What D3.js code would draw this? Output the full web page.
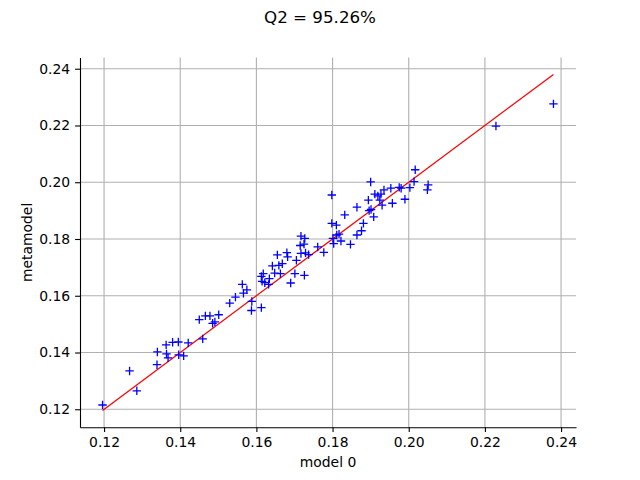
<!DOCTYPE html>
<html>
<head>
<meta charset="utf-8">
<script src="https://cdn.jsdelivr.net/npm/d3@7.9.0/dist/d3.min.js"></script>
<style>
  body { margin: 0; background: #fff; }
  svg { font-family: 'DejaVu Sans', sans-serif; }
</style>
</head>
<body>
<svg id="chart" width="640" height="480"></svg>
<script>
// model output (x) vs metamodel prediction (y)
const modelValues = [
  0.1196, 0.1267, 0.1286, 0.1339, 0.1340, 0.1363, 0.1364, 0.1368, 0.1380, 0.1395,
  0.1396, 0.1409, 0.1421, 0.1459, 0.1450, 0.1466, 0.1478, 0.1485, 0.1491, 0.1501,
  0.1530, 0.1545, 0.1563, 0.1566, 0.1575, 0.1588, 0.1587, 0.1613, 0.1613, 0.1618,
  0.1615, 0.1622, 0.1634, 0.1632, 0.1642, 0.1648, 0.1655, 0.1659, 0.1663, 0.1668,
  0.1680, 0.1682, 0.1690, 0.1701, 0.1705, 0.1717, 0.1727, 0.1715, 0.1725, 0.1717,
  0.1729, 0.1737, 0.1726, 0.1761, 0.1777, 0.1798, 0.1810, 0.1801, 0.1811, 0.1817,
  0.1803, 0.1822, 0.1847, 0.1864, 0.1798, 0.1832, 0.1864, 0.1876, 0.1881, 0.1894,
  0.1900, 0.1896, 0.1901, 0.1911, 0.1908, 0.1919, 0.1927, 0.1924, 0.1930, 0.1935,
  0.1953, 0.1957, 0.1975, 0.1980, 0.1990, 0.2003, 0.2017, 0.2014, 0.2051, 0.2049,
  0.2229, 0.2380
];
const metamodelValues = [
  0.1215, 0.1335, 0.1265, 0.1357, 0.1402, 0.1427, 0.1395, 0.1381, 0.1436, 0.1437,
  0.1392, 0.1388, 0.1434, 0.1448, 0.1516, 0.1529, 0.1529, 0.1503, 0.1508, 0.1533,
  0.1574, 0.1595, 0.1640, 0.1609, 0.1621, 0.1580, 0.1548, 0.1558, 0.1668, 0.1678,
  0.1651, 0.1646, 0.1660, 0.1640, 0.1705, 0.1680, 0.1744, 0.1707, 0.1678, 0.1713,
  0.1752, 0.1737, 0.1645, 0.1678, 0.1725, 0.1810, 0.1802, 0.1777, 0.1782, 0.1749,
  0.1751, 0.1745, 0.1672, 0.1772, 0.1753, 0.1855, 0.1849, 0.1802, 0.1814, 0.1817,
  0.1784, 0.1793, 0.1781, 0.1814, 0.1955, 0.1885, 0.1912, 0.1829, 0.1855, 0.1937,
  0.2001, 0.1900, 0.1904, 0.1958, 0.1878, 0.1952, 0.1958, 0.1937, 0.1919, 0.1973,
  0.1979, 0.1926, 0.1982, 0.1979, 0.1940, 0.1981, 0.2044, 0.2002, 0.1991, 0.1973,
  0.2198, 0.2276
];
const xTicks = [0.12, 0.14, 0.16, 0.18, 0.20, 0.22, 0.24];
const yTicks = [0.12, 0.14, 0.16, 0.18, 0.20, 0.22, 0.24];
const title = 'Q2 = 95.26%';
const xLabel = 'model 0';
const yLabel = 'metamodel';

const margin = { top: 57.6, right: 64, bottom: 52.8, left: 80 };
const width = 640 - margin.left - margin.right;
const height = 480 - margin.top - margin.bottom;

const points = modelValues.map((x, i) => ({ x, y: metamodelValues[i] }));

// diagonal y = x over the range of the model values
const [lo, hi] = d3.extent(modelValues);
const diagonal = [{ x: lo, y: lo }, { x: hi, y: hi }];

// matplotlib style 5% padding around the data
function padded(values) {
  const [a, b] = d3.extent(values);
  const pad = (b - a) * 0.05;
  return [a - pad, b + pad];
}

const x = d3.scaleLinear()
  .domain(padded(modelValues.concat([lo, hi])))
  .range([0, width]);
const y = d3.scaleLinear()
  .domain(padded(metamodelValues.concat([lo, hi])))
  .range([height, 0]);

const svg = d3.select('#chart');

svg.append('text')
  .attr('x', 320)
  .attr('y', 23)
  .attr('text-anchor', 'middle')
  .attr('font-size', '16.7px')
  .text(title);

const g = svg.append('g')
  .attr('transform', `translate(${margin.left},${margin.top})`);

// grid
g.append('g')
  .selectAll('line')
  .data(xTicks)
  .join('line')
  .attr('x1', (d) => x(d))
  .attr('x2', (d) => x(d))
  .attr('y1', 0)
  .attr('y2', height)
  .attr('stroke', '#b0b0b0')
  .attr('stroke-width', 1.1);

g.append('g')
  .selectAll('line')
  .data(yTicks)
  .join('line')
  .attr('x1', 0)
  .attr('x2', width)
  .attr('y1', (d) => y(d))
  .attr('y2', (d) => y(d))
  .attr('stroke', '#b0b0b0')
  .attr('stroke-width', 1.1);

// axes (only left and bottom spines, no outer ticks)
const xAxis = g.append('g')
  .attr('transform', `translate(0,${height})`)
  .call(d3.axisBottom(x).tickValues(xTicks).tickFormat(d3.format('.2f'))
    .tickSizeInner(4.9).tickSizeOuter(0).tickPadding(4.9));
const yAxis = g.append('g')
  .call(d3.axisLeft(y).tickValues(yTicks).tickFormat(d3.format('.2f'))
    .tickSizeInner(4.9).tickSizeOuter(0).tickPadding(4.9));

[xAxis, yAxis].forEach((axis) => {
  axis.attr('font-family', 'DejaVu Sans, sans-serif').attr('font-size', '13.9px');
  axis.select('.domain').attr('stroke', '#000').attr('stroke-width', 1.1);
  axis.selectAll('.tick line').attr('stroke', '#000').attr('stroke-width', 1.1);
  axis.selectAll('.tick text').attr('fill', '#000');
});

svg.append('text')
  .attr('x', margin.left + width / 2)
  .attr('y', 467)
  .attr('text-anchor', 'middle')
  .attr('font-size', '13.9px')
  .text(xLabel);

svg.append('text')
  .attr('transform', `translate(32,${margin.top + height / 2}) rotate(-90)`)
  .attr('text-anchor', 'middle')
  .attr('font-size', '13.9px')
  .text(yLabel);

// y = x reference line
g.append('path')
  .datum(diagonal)
  .attr('fill', 'none')
  .attr('stroke', '#ff0000')
  .attr('stroke-width', 1.3)
  .attr('d', d3.line().x((d) => x(d.x)).y((d) => y(d.y)));

// "+" markers
const arm = 4.2;
g.append('g')
  .selectAll('path')
  .data(points)
  .join('path')
  .attr('d', (d) => {
    const cx = x(d.x);
    const cy = y(d.y);
    return `M${cx - arm},${cy}H${cx + arm}M${cx},${cy - arm}V${cy + arm}`;
  })
  .attr('stroke', '#0000ff')
  .attr('stroke-width', 1.3)
  .attr('fill', 'none');
</script>
</body>
</html>
